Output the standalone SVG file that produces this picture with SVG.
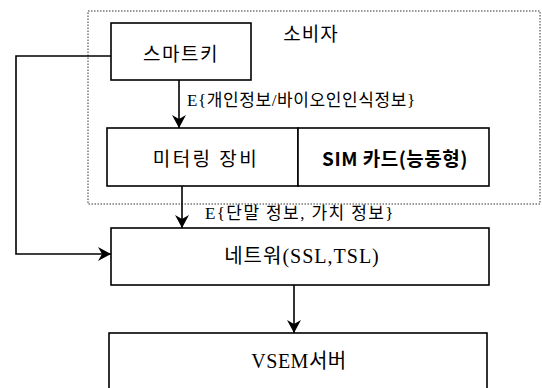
<svg xmlns="http://www.w3.org/2000/svg" width="542" height="388" viewBox="0 0 542 388">
<defs>
<marker id="ah" markerWidth="14" markerHeight="14" viewBox="0 0 14 14" refX="13" refY="7" orient="auto" markerUnits="userSpaceOnUse">
<path d="M0,0 L13,7 L0,14 L4,7 Z" fill="#000"/>
</marker>
</defs>
<style>
.box{fill:#fff;stroke:#000;stroke-width:1.6}
.ln{fill:none;stroke:#000;stroke-width:1.6}
.t{font-family:"Liberation Serif","Noto Sans CJK KR",serif;font-size:20px;fill:#000;text-anchor:middle;dominant-baseline:central}
.k{font-family:"Noto Sans CJK KR","Liberation Sans",sans-serif;font-size:19px;fill:#000;text-anchor:middle;dominant-baseline:central}
.lbl{font-family:"Liberation Serif","Noto Sans CJK KR",serif;font-size:17px;fill:#000;dominant-baseline:central}
</style>
<g id="consumer">
<rect x="88" y="11" width="452" height="193" fill="none" stroke="#333" stroke-width="1" stroke-dasharray="1.5,1.5"/>
<text class="k" x="311" y="32" font-size="15" letter-spacing="1">소비자</text>
</g>
<g id="smartkey">
<rect class="box" x="111" y="23" width="140" height="57"/>
<text class="k" x="181" y="52" letter-spacing="1.5">스마트키</text>
</g>
<g id="metering">
<rect class="box" x="107" y="128" width="191" height="58"/>
<text class="k" x="206" y="157" letter-spacing="2.5">미터링 장비</text>
</g>
<g id="sim">
<rect class="box" x="298" y="128" width="191" height="58"/>
<text class="k" x="395" y="157" font-size="19" font-weight="bold" font-family="Liberation Sans, Noto Sans CJK KR, sans-serif" letter-spacing="0.5">SIM 카드(능동형)</text>
</g>
<g id="network">
<rect class="box" x="111" y="228" width="378" height="57"/>
<text class="t" x="302" y="256" letter-spacing="1">네트워(SSL,TSL)</text>
</g>
<g id="vsem">
<rect class="box" x="109" y="333" width="378" height="60"/>
<text class="t" x="299" y="361" letter-spacing="0.5">VSEM서버</text>
</g>
<g id="connectors">
<path class="ln" d="M179,80 L179,128" marker-end="url(#ah)"/>
<path class="ln" d="M182,186 L182,228" marker-end="url(#ah)"/>
<path class="ln" d="M111,56 L16,56 L16,254 L111,254" marker-end="url(#ah)"/>
<path class="ln" d="M294,285 L294,333" marker-end="url(#ah)"/>
<text class="lbl" x="187" y="100" letter-spacing="0.6">E{개인정보/바이오인인식정보}</text>
<text class="lbl" x="205" y="213" letter-spacing="1.4">E{단말 정보, 가치 정보}</text>
</g>
</svg>
